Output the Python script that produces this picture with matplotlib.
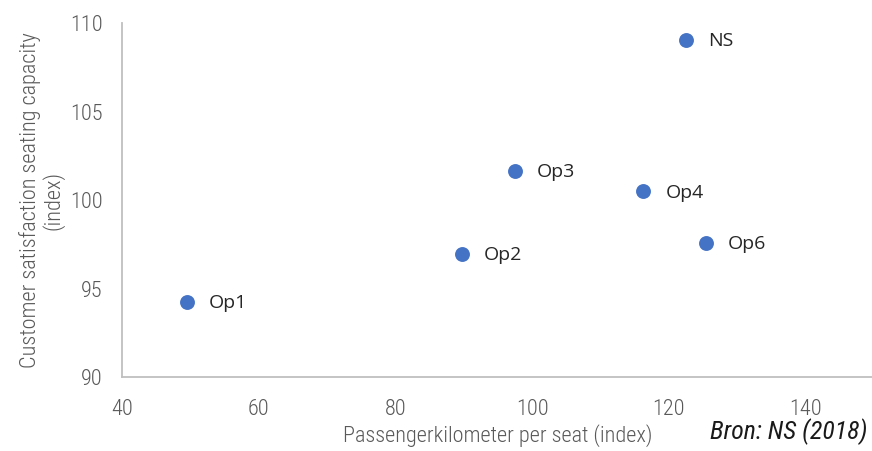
import matplotlib.pyplot as plt

# gegevens uit de grafiek
labels = ["Op1", "Op2", "Op3", "Op4", "Op6", "NS"]
pkm_per_seat = [49.5, 89.7, 97.5, 116.3, 125.4, 122.5]
satisfaction = [94.25, 96.95, 101.65, 100.5, 97.6, 109.05]

narrow = ["Roboto Condensed", "Barlow Semi Condensed", "DejaVu Sans"]
plain = ["Open Sans", "DejaVu Sans"]

fig = plt.figure(figsize=(8.72, 4.51), dpi=100)
ax = fig.add_axes([0.14, 0.164, 0.862, 0.785])

ax.scatter(pkm_per_seat, satisfaction, s=115, color="#4472C4", zorder=3, linewidths=0)
for x, y, t in zip(pkm_per_seat, satisfaction, labels):
    ax.annotate(t, (x, y), xytext=(16, -1), textcoords="offset points",
                va="center", ha="left", fontsize=14, color="#262626",
                family=plain)

ax.set_xlim(40, 150)
ax.set_ylim(90, 110)
ax.set_xticks([40, 60, 80, 100, 120, 140])
ax.set_yticks([90, 95, 100, 105, 110])

for s in ["top", "right"]:
    ax.spines[s].set_visible(False)
for s in ["left", "bottom"]:
    ax.spines[s].set_color("#BFBFBF")
    ax.spines[s].set_linewidth(1.3)
ax.tick_params(axis="y", length=0, pad=14, labelsize=16, labelcolor="#595959")
ax.tick_params(axis="x", length=0, pad=16, labelsize=16, labelcolor="#595959")
for lab in ax.get_xticklabels() + ax.get_yticklabels():
    lab.set_family(narrow)
    lab.set_fontweight("light")

ax.set_xlabel("Passengerkilometer per seat (index)", fontsize=16, color="#595959",
              family=narrow, fontweight="light", labelpad=3)
ax.set_ylabel("Customer satisfaction seating capacity\n(index)", fontsize=16,
              color="#595959", family=narrow, fontweight="light", labelpad=4,
              linespacing=1.05)

fig.text(0.995, 0.042, "Bron: NS (2018)", ha="right", va="center", fontsize=18.5,
         style="italic", family=narrow, color="#1a1a1a")

plt.savefig("out.png", dpi=100)
